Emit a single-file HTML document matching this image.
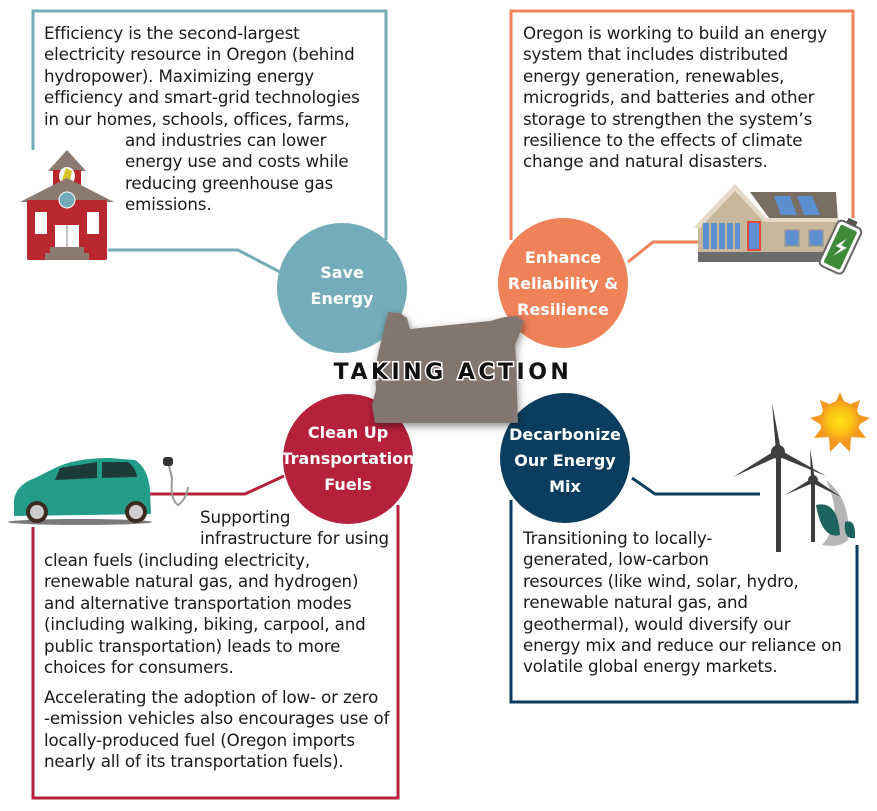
<!DOCTYPE html>
<html><head><meta charset="utf-8"><style>
body{margin:0;background:#fff}
#c{position:relative;width:877px;height:811px;overflow:hidden;font-family:"DejaVu Sans","Liberation Sans",sans-serif;}
.t{position:absolute;white-space:nowrap;font-size:16.7px;color:#1a1a1a;letter-spacing:-0.15px}
.lb{position:absolute;color:#fff;font-weight:bold;font-size:16px;text-align:center;line-height:26px;white-space:nowrap;width:160px}
</style></head><body><div id="c">
<svg width="877" height="811" style="position:absolute;left:0;top:0">
<defs>
<filter id="sh" x="-20%" y="-20%" width="140%" height="140%"><feDropShadow dx="1" dy="3" stdDeviation="4" flood-color="#000" flood-opacity="0.45"/></filter>
<radialGradient id="sun"><stop offset="0" stop-color="#ffe21a"/><stop offset="0.6" stop-color="#fbc313"/><stop offset="1" stop-color="#f39a1e"/></radialGradient>
</defs>
<g fill="none" stroke-width="3">
<polyline stroke="#74adb9" points="33,150 33,11 386,11 386,240"/>
<polyline stroke="#74adb9" points="108,250 238,250 280,272"/>
<polyline stroke="#f0825a" points="511,240 511,11 853,11 853,218"/>
<polyline stroke="#f0825a" points="628,262 653,242 700,242"/>
<polyline stroke="#b5203a" points="150,494 245,494 284,476"/>
<polyline stroke="#b5203a" points="33,527 33,798 398,798 398,505"/>
<polyline stroke="#0b3d5e" points="632,478 655,494 760,494"/>
<polyline stroke="#0b3d5e" points="511,500 511,702 857,702 857,545"/>
</g>
<circle cx="342" cy="288" r="65" fill="#74adb9"/>
<circle cx="563" cy="283" r="65" fill="#f0825a"/>
<circle cx="348" cy="459" r="65" fill="#b5203a"/>
<circle cx="565" cy="458" r="65" fill="#0b3d5e"/>
<polygon filter="url(#sh)" fill="#83766f" points="388,312 400,313 407,318 410,329 430,327 450,325 470,323 490,321 505,317 517,316 524,321 520,333 515,345 516,360 518,423 375,423 372,405 376,390 375,370 379,350 384,330"/>
<g>
<polygon points="48,171 67,150 86,171" fill="#8a7a70"/>
<rect x="53" y="170" width="28" height="20" fill="#b8282e"/>
<ellipse cx="67" cy="176" rx="8" ry="9" fill="#fff"/>
<path d="M62,180 L66,168 L72,171 L70,181 Z" fill="#d6c52c"/>
<polygon points="20,202 67,178 114,202" fill="#8a7a70"/>
<rect x="27" y="200" width="80" height="60" rx="2" fill="#b8282e"/>
<circle cx="67" cy="200" r="8" fill="#74adb9" stroke="#fff" stroke-width="1"/>
<rect x="35" y="212" width="12" height="22" fill="#fff"/><rect x="87" y="212" width="12" height="22" fill="#fff"/>
<rect x="55" y="225" width="24" height="25" fill="#fff"/><line x1="67" y1="225" x2="67" y2="250" stroke="#888"/>
<rect x="50" y="247" width="34" height="6" fill="#8a7a70"/><rect x="45" y="253" width="44" height="7" fill="#8a7a70"/>
</g>
<g>
<polygon points="750,192 836,192 838,222 772,222" fill="#7a6e63"/>
<polygon points="774,196 790,196 797,215 781,215" fill="#5b8fd0"/><polygon points="797,196 812,196 820,215 804,215" fill="#5b8fd0"/>
<polygon points="698,225 735,188 765,220 765,260 698,260" fill="#c9b79b"/>
<polygon points="694,227 735,184 768,220 764,222 735,191 699,229" fill="#e5dac8"/>
<rect x="765" y="220" width="72" height="32" fill="#c9b79b"/>
<rect x="765" y="218" width="74" height="4" fill="#e5dac8"/>
<rect x="702" y="224" width="38" height="28" fill="#c9b79b"/>
<g fill="#5b8fd0"><rect x="703" y="223" width="6" height="26"/><rect x="711" y="223" width="6" height="26"/><rect x="719" y="223" width="6" height="26"/><rect x="727" y="223" width="6" height="26"/><rect x="735" y="223" width="5" height="26"/></g>
<rect x="748" y="222" width="12" height="28" fill="#5b8fd0" stroke="#e04c40" stroke-width="2"/>
<rect x="785" y="230" width="14" height="16" fill="#5b8fd0" stroke="#999" stroke-width="1.5"/><rect x="809" y="230" width="14" height="16" fill="#5b8fd0" stroke="#999" stroke-width="1.5"/>
<rect x="698" y="252" width="140" height="10" fill="#6b6b6e"/>
<g transform="rotate(25 840 248)"><rect x="827" y="222" width="26" height="50" rx="5" fill="#fff" stroke="#666" stroke-width="2"/><rect x="831" y="226" width="18" height="42" rx="2" fill="#3f8a3a"/><rect x="835" y="217" width="10" height="5" fill="#555"/><path d="M842,237 L835,248 L841,248 L837,258 L846,245 L840,245 Z" fill="#fff"/></g>
</g>
<g>
<ellipse cx="80" cy="522" rx="72" ry="3" fill="#222" opacity="0.6"/>
<path d="M14,500 Q16,485 35,478 L55,468 Q75,458 110,458 L135,460 Q148,468 150,490 L151,514 L14,516 Z" fill="#239d8a"/>
<path d="M60,468 L97,462 L97,478 L55,480 Z" fill="#1c3a3a"/><path d="M102,462 L128,462 Q136,468 137,477 L102,478 Z" fill="#1c3a3a"/>
<circle cx="37" cy="512" r="11" fill="#3a2a20"/><circle cx="37" cy="512" r="7" fill="#ccc"/>
<circle cx="136" cy="512" r="11" fill="#3a2a20"/><circle cx="136" cy="512" r="7" fill="#ccc"/>
<path d="M168,462 L172,478 Q170,500 178,505 Q186,500 188,487" fill="none" stroke="#999" stroke-width="2"/>
<rect x="163" y="457" width="10" height="9" rx="3" fill="#333"/>
</g>
<g>
<polygon points="840,392 846,406 860,400 856,414 870,418 857,426 866,438 851,437 850,452 840,442 830,452 829,437 814,438 823,426 810,418 824,414 820,400 834,406" fill="#f39a1e"/>
<circle cx="840" cy="421" r="20" fill="url(#sun)"/>
<path d="M826,480 Q852,500 848,540 Q840,548 822,545 Q845,520 826,480 Z" fill="#b5b5b5"/>
<rect x="776" y="452" width="5" height="100" fill="#3e3e40"/>
<polygon points="776,452 772,403 781,450" fill="#3e3e40"/>
<polygon points="776,450 733,477 779,456" fill="#3e3e40"/>
<polygon points="780,450 826,476 777,456" fill="#3e3e40"/>
<circle cx="778" cy="452" r="7" fill="#3e3e40"/>
<rect x="811" y="480" width="4" height="62" fill="#3e3e40"/>
<polygon points="811,480 810,448 815,480" fill="#3e3e40"/>
<polygon points="811,479 785,495 813,483" fill="#3e3e40"/>
<polygon points="815,479 841,497 812,483" fill="#3e3e40"/>
<circle cx="813" cy="480" r="5" fill="#3e3e40"/>
<path d="M816,505 Q838,500 840,535 Q822,540 816,505 Z" fill="#1d6461"/>
<path d="M845,522 Q856,518 855,538 Q843,540 845,522 Z" fill="#1d6461"/>
</g>
<text x="453" y="379" text-anchor="middle" font-family="DejaVu Sans,sans-serif" font-weight="bold" font-size="22" letter-spacing="3.5" fill="#111" stroke="#fff" stroke-width="3" paint-order="stroke">TAKING ACTION</text>
</svg>
<div class="lb" style="left:262px;top:260px">Save<br>Energy</div>
<div class="lb" style="left:483px;top:245px">Enhance<br>Reliability &amp;<br>Resilience</div>
<div class="lb" style="left:268px;top:420px">Clean Up<br>Transportation<br>Fuels</div>
<div class="lb" style="left:485px;top:422px">Decarbonize<br>Our Energy<br>Mix</div>

<div class="t" style="left:44px;top:23px;line-height:21.4px">Efficiency is the second-largest<br>electricity resource in Oregon (behind<br>hydropower). Maximizing energy<br>efficiency and smart-grid technologies<br>in our homes, schools, offices, farms,</div>
<div class="t" style="left:125px;top:130px;line-height:21.4px">and industries can lower<br>energy use and costs while<br>reducing greenhouse gas<br>emissions.</div>
<div class="t" style="left:523px;top:23px;line-height:21.4px">Oregon is working to build an energy<br>system that includes distributed<br>energy generation, renewables,<br>microgrids, and batteries and other<br>storage to strengthen the system’s<br>resilience to the effects of climate<br>change and natural disasters.</div>
<div class="t" style="left:200px;top:507px;line-height:21.4px">Supporting<br>infrastructure for using</div>
<div class="t" style="left:44px;top:550px;line-height:21.4px">clean fuels (including electricity,<br>renewable natural gas, and hydrogen)<br>and alternative transportation modes<br>(including walking, biking, carpool, and<br>public transportation) leads to more<br>choices for consumers.</div>
<div class="t" style="left:44px;top:687px;line-height:21.4px">Accelerating the adoption of low- or zero<br>-emission vehicles also encourages use of<br>locally-produced fuel (Oregon imports<br>nearly all of its transportation fuels).</div>
<div class="t" style="left:523px;top:528px;line-height:21.4px">Transitioning to locally-<br>generated, low-carbon<br>resources (like wind, solar, hydro,<br>renewable natural gas, and<br>geothermal), would diversify our<br>energy mix and reduce our reliance on<br>volatile global energy markets.</div>
</div></body></html>
